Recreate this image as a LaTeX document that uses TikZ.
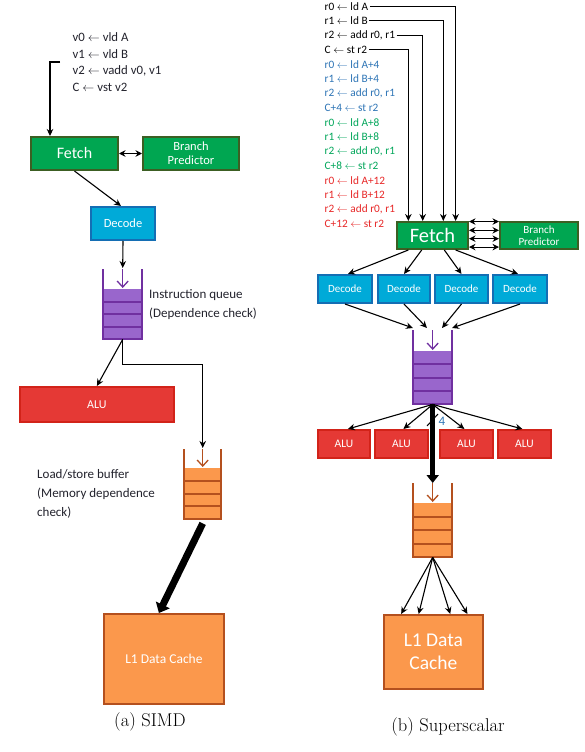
\documentclass[tikz,border=0pt]{standalone}
\usepackage{fontspec}
\newfontfamily\cf{Carlito}
\usetikzlibrary{arrows.meta,calc}
\newcommand\fsz[1]{\fontsize{#1}{#1}\selectfont}
\definecolor{gfill}{RGB}{0,166,81}
\definecolor{gborder}{RGB}{60,95,35}
\definecolor{cfill}{RGB}{0,170,216}
\definecolor{cborder}{RGB}{20,110,180}
\definecolor{pfill}{RGB}{153,102,204}
\definecolor{pborder}{RGB}{112,48,160}
\definecolor{rfill}{RGB}{229,57,53}
\definecolor{rborder}{RGB}{210,35,25}
\definecolor{ofill}{RGB}{251,152,76}
\definecolor{oborder}{RGB}{180,80,30}
\definecolor{cblue}{RGB}{46,117,182}
\definecolor{cgreen}{RGB}{0,166,90}
\definecolor{cred}{RGB}{232,40,40}
\definecolor{ctext}{RGB}{35,35,45}
\tikzset{
  arr/.style={-{Stealth[length=7pt,width=6.5pt]}, line width=1.1pt, black},
  darr/.style={{Stealth[length=6.5pt,width=6.5pt]}-{Stealth[length=6.5pt,width=6.5pt]}, line width=1.1pt, black},
  boxbase/.style={inner sep=0pt, anchor=north west, align=center, text=white, font=\cf},
  gbox/.style={boxbase, draw=gborder, fill=gfill, line width=2pt},
  cbox/.style={boxbase, draw=cborder, fill=cfill, line width=2pt},
  rbox/.style={boxbase, draw=rborder, fill=rfill, line width=1.8pt},
  obox/.style={boxbase, draw=oborder, fill=ofill, line width=1.8pt},
  pcell/.style={inner sep=0pt, anchor=north west, fill=pfill},
  ocell/.style={inner sep=0pt, anchor=north west, fill=ofill},
  pwall/.style={draw=pborder, line width=2pt},
  owall/.style={draw=oborder, line width=2pt},
  parr/.style={-{Straight Barb[length=6pt,width=11pt]}, line width=1.3pt, pborder},
  oarr/.style={-{Straight Barb[length=6pt,width=11pt]}, line width=1.3pt, oborder},
  codeL/.style={anchor=west, inner sep=1.5pt, font=\cf\fsz{12.8}, text=ctext},
  codeR/.style={anchor=west, inner sep=1.5pt, font=\cf\fsz{11.3}},
  lbl/.style={anchor=west, align=left, inner sep=0pt, font=\cf\fontsize{13}{19}\selectfont, text=ctext},
  captext/.style={inner sep=0pt, font=\fsz{18.5}},
}
\begin{document}
\begin{tikzpicture}[x=1pt,y=-1pt]
\useasboundingbox[fill=white] (0,0) rectangle (585,752);

% ================= (a) SIMD =================
\node[codeL] (v0) at (71,37) {v0 $\leftarrow$ vld A};
\node[codeL] (v1) at (71,54) {v1 $\leftarrow$ vld B};
\node[codeL] (v2) at (71,71) {v2 $\leftarrow$ vadd v0, v1};
\node[codeL] (v3) at (71,87) {C $\leftarrow$ vst v2};
\coordinate (brk) at (60,62);

\node[gbox, minimum width=87, minimum height=33, font=\cf\fsz{16}] (fL) at (30,136) {Fetch};
\node[gbox, minimum width=96, minimum height=33, font=\cf\fontsize{12.5}{14}\selectfont] (bpL) at (142,136) {Branch\\Predictor};
\node[cbox, minimum width=64, minimum height=33, font=\cf\fsz{12.5}] (dL) at (90,206) {Decode};

% instruction queue
\node[pcell, minimum width=39, minimum height=50] (qL) at (103,289) {};
\foreach \yy in {301.5,314,326.5} \draw[pwall] (103,\yy) -- (142,\yy);
\draw[pwall] (103,269) |- (142,339) -- (142,269);
\draw[parr] ($(qL.north)+(0,-20)$) -- ($(qL.north)+(0,-1)$);
\node[lbl] (qlbl) at (149,304.5) {Instruction queue\\(Dependence check)};

\node[rbox, minimum width=154, minimum height=35, font=\cf\fsz{12}] (aluL) at (19,386) {ALU};

% load/store buffer
\node[ocell, minimum width=37, minimum height=51] (lsbL) at (184,468) {};
\foreach \yy in {480.75,493.5,506.25} \draw[owall] (184,\yy) -- (221,\yy);
\draw[owall] (184,449) |- (221,519) -- (221,449);
\draw[oarr] ($(lsbL.north)+(0,-19)$) -- ($(lsbL.north)+(0,-1)$);
\node[lbl] (llbl) at (37,494) {Load/store buffer\\(Memory dependence\\check)};

\node[obox, minimum width=120, minimum height=90, font=\cf\fsz{13.5}] (l1L) at (103,613) {L1 Data Cache};

\node[captext] (capa) at (150,722) {(a) SIMD};

% connectors (a)
\draw[arr] (brk) -| ($(fL.north west)+(20,0)$);
\draw[darr] (fL.east) -- (bpL.west);
\draw[arr] (fL.south) -- ($(dL.north)+(-2,0)$);
\draw[arr] (dL.south) -- ($(qL.north)+(0,-21)$);
\draw[arr] (qL.south) -- (aluL.north);
\draw[arr] (qL.south) -- ++(0,25) -| ($(lsbL.north)+(0,-20)$);
\draw[line width=7pt, -{Triangle[length=9pt,width=15pt]}] ($(lsbL.south)+(0,4)$) -- ($(l1L.north)+(-5,0)$);

% ================= (b) Superscalar =================
\foreach \i/\t/\c in {1/{r0 $\leftarrow$ ld A}/black,
                      2/{r1 $\leftarrow$ ld B}/black,
                      3/{r2 $\leftarrow$ add r0, r1}/black,
                      4/{C $\leftarrow$ st r2}/black,
                      5/{r0 $\leftarrow$ ld A+4}/cblue,
                      6/{r1 $\leftarrow$ ld B+4}/cblue,
                      7/{r2 $\leftarrow$ add r0, r1}/cblue,
                      8/{C+4 $\leftarrow$ st r2}/cblue,
                      9/{r0 $\leftarrow$ ld A+8}/cgreen,
                      10/{r1 $\leftarrow$ ld B+8}/cgreen,
                      11/{r2 $\leftarrow$ add r0, r1}/cgreen,
                      12/{C+8 $\leftarrow$ st r2}/cgreen,
                      13/{r0 $\leftarrow$ ld A+12}/cred,
                      14/{r1 $\leftarrow$ ld B+12}/cred,
                      15/{r2 $\leftarrow$ add r0, r1}/cred,
                      16/{C+12 $\leftarrow$ st r2}/cred}
  \node[codeR, text=\c] (c\i) at (323, {6.2+14.52*(\i-1)}) {\t};

\node[gbox, minimum width=71, minimum height=27, font=\cf\fsz{20.5}] (fR) at (396,221) {Fetch};
\node[gbox, minimum width=78, minimum height=27, font=\cf\fontsize{11}{12}\selectfont] (bpR) at (499,221) {Branch\\Predictor};

\node[cbox, minimum width=54, minimum height=28, font=\cf\fsz{11}] (dR1) at (317,274) {Decode};
\node[cbox, minimum width=52, minimum height=28, font=\cf\fsz{11}] (dR2) at (377,274) {Decode};
\node[cbox, minimum width=53, minimum height=28, font=\cf\fsz{11}] (dR3) at (434,274) {Decode};
\node[cbox, minimum width=54, minimum height=28, font=\cf\fsz{11}] (dR4) at (492,274) {Decode};

% queue
\node[pcell, minimum width=39, minimum height=53] (qR) at (413,351) {};
\foreach \yy in {364.25,377.5,390.75} \draw[pwall] (413,\yy) -- (452,\yy);
\draw[pwall] (413,330) |- (452,404) -- (452,330);
\draw[parr] ($(qR.north)+(0,-21)$) -- ($(qR.north)+(0,-1)$);

\node[rbox, minimum width=52, minimum height=28, font=\cf\fsz{11.5}] (aR1) at (317,429) {ALU};
\node[rbox, minimum width=53, minimum height=28, font=\cf\fsz{11.5}] (aR2) at (374,429) {ALU};
\node[rbox, minimum width=53, minimum height=28, font=\cf\fsz{11.5}] (aR3) at (439,429) {ALU};
\node[rbox, minimum width=53, minimum height=28, font=\cf\fsz{11.5}] (aR4) at (497,429) {ALU};

% LSB
\node[ocell, minimum width=39, minimum height=54] (lsbR) at (413,503) {};
\foreach \yy in {516.5,530,543.5} \draw[owall] (413,\yy) -- (452,\yy);
\draw[owall] (413,483) |- (452,557) -- (452,483);
\draw[oarr] ($(lsbR.north)+(0,-20)$) -- ($(lsbR.north)+(0,-1)$);

\node[obox, minimum width=99, minimum height=74, font=\cf\fontsize{19.5}{23}\selectfont] (l1R) at (383,614) {L1 Data\\Cache};

\node[captext] (capb) at (448,727) {(b) Superscalar};

% connectors (b)
\draw[arr] (c1.east) -| ($(fR.north west)!0.817!(fR.north east)$);
\draw[arr] (c2.east) -| ($(fR.north west)!0.648!(fR.north east)$);
\draw[arr] (c3.east) -| ($(fR.north west)!0.366!(fR.north east)$);
\draw[arr] (c4.east) -| ($(fR.north west)!0.169!(fR.north east)$);
\foreach \f in {0.02,0.32,0.61,0.9}
  \draw[darr] ($(fR.north east)!\f!(fR.south east)$) -- ($(bpR.north west)!\f!(bpR.south west)$);
\draw[arr] ($(fR.south west)!0.169!(fR.south east)$) -- ($(dR1.north)+(3,0)$);
\draw[arr] ($(fR.south west)!0.352!(fR.south east)$) -- (dR2.north);
\draw[arr] ($(fR.south west)!0.662!(fR.south east)$) -- (dR3.north);
\draw[arr] ($(fR.south west)!0.817!(fR.south east)$) -- ($(dR4.north)+(-2,0)$);
\draw[arr] (dR1.south) -- ($(qR.north west)+(0,-23)$);
\draw[arr] (dR2.south) -- ($(qR.north west)+(14,-23)$);
\draw[arr] (dR3.south) -- ($(qR.north west)+(29,-23)$);
\draw[arr] (dR4.south) -- ($(qR.north west)+(39,-23)$);
\draw[arr] (qR.south) -- ($(aR1.north)+(4,0)$);
\draw[arr] (qR.south) -- ($(aR2.north)+(2,0)$);
\draw[arr] (qR.south) -- ($(aR3.north)+(-2,0)$);
\draw[arr] (qR.south) -- ($(aR4.north)+(-2,0)$);
\draw[line width=5.5pt, -{Triangle[length=8pt,width=12pt]}] (qR.south) -- ($(lsbR.north)+(0,-20)$);
\draw[line width=1pt] (427,426) -- (438,414);
\node[inner sep=0pt, font=\cf\fsz{13}, text=cblue] (four) at (442,421) {4};
\draw[arr] (lsbR.south) -- ($(l1R.north west)!0.18!(l1R.north east)$);
\draw[arr] (lsbR.south) -- ($(l1R.north west)!0.354!(l1R.north east)$);
\draw[arr] (lsbR.south) -- ($(l1R.north west)!0.667!(l1R.north east)$);
\draw[arr] (lsbR.south) -- ($(l1R.north west)!0.838!(l1R.north east)$);
\end{tikzpicture}
\end{document}
